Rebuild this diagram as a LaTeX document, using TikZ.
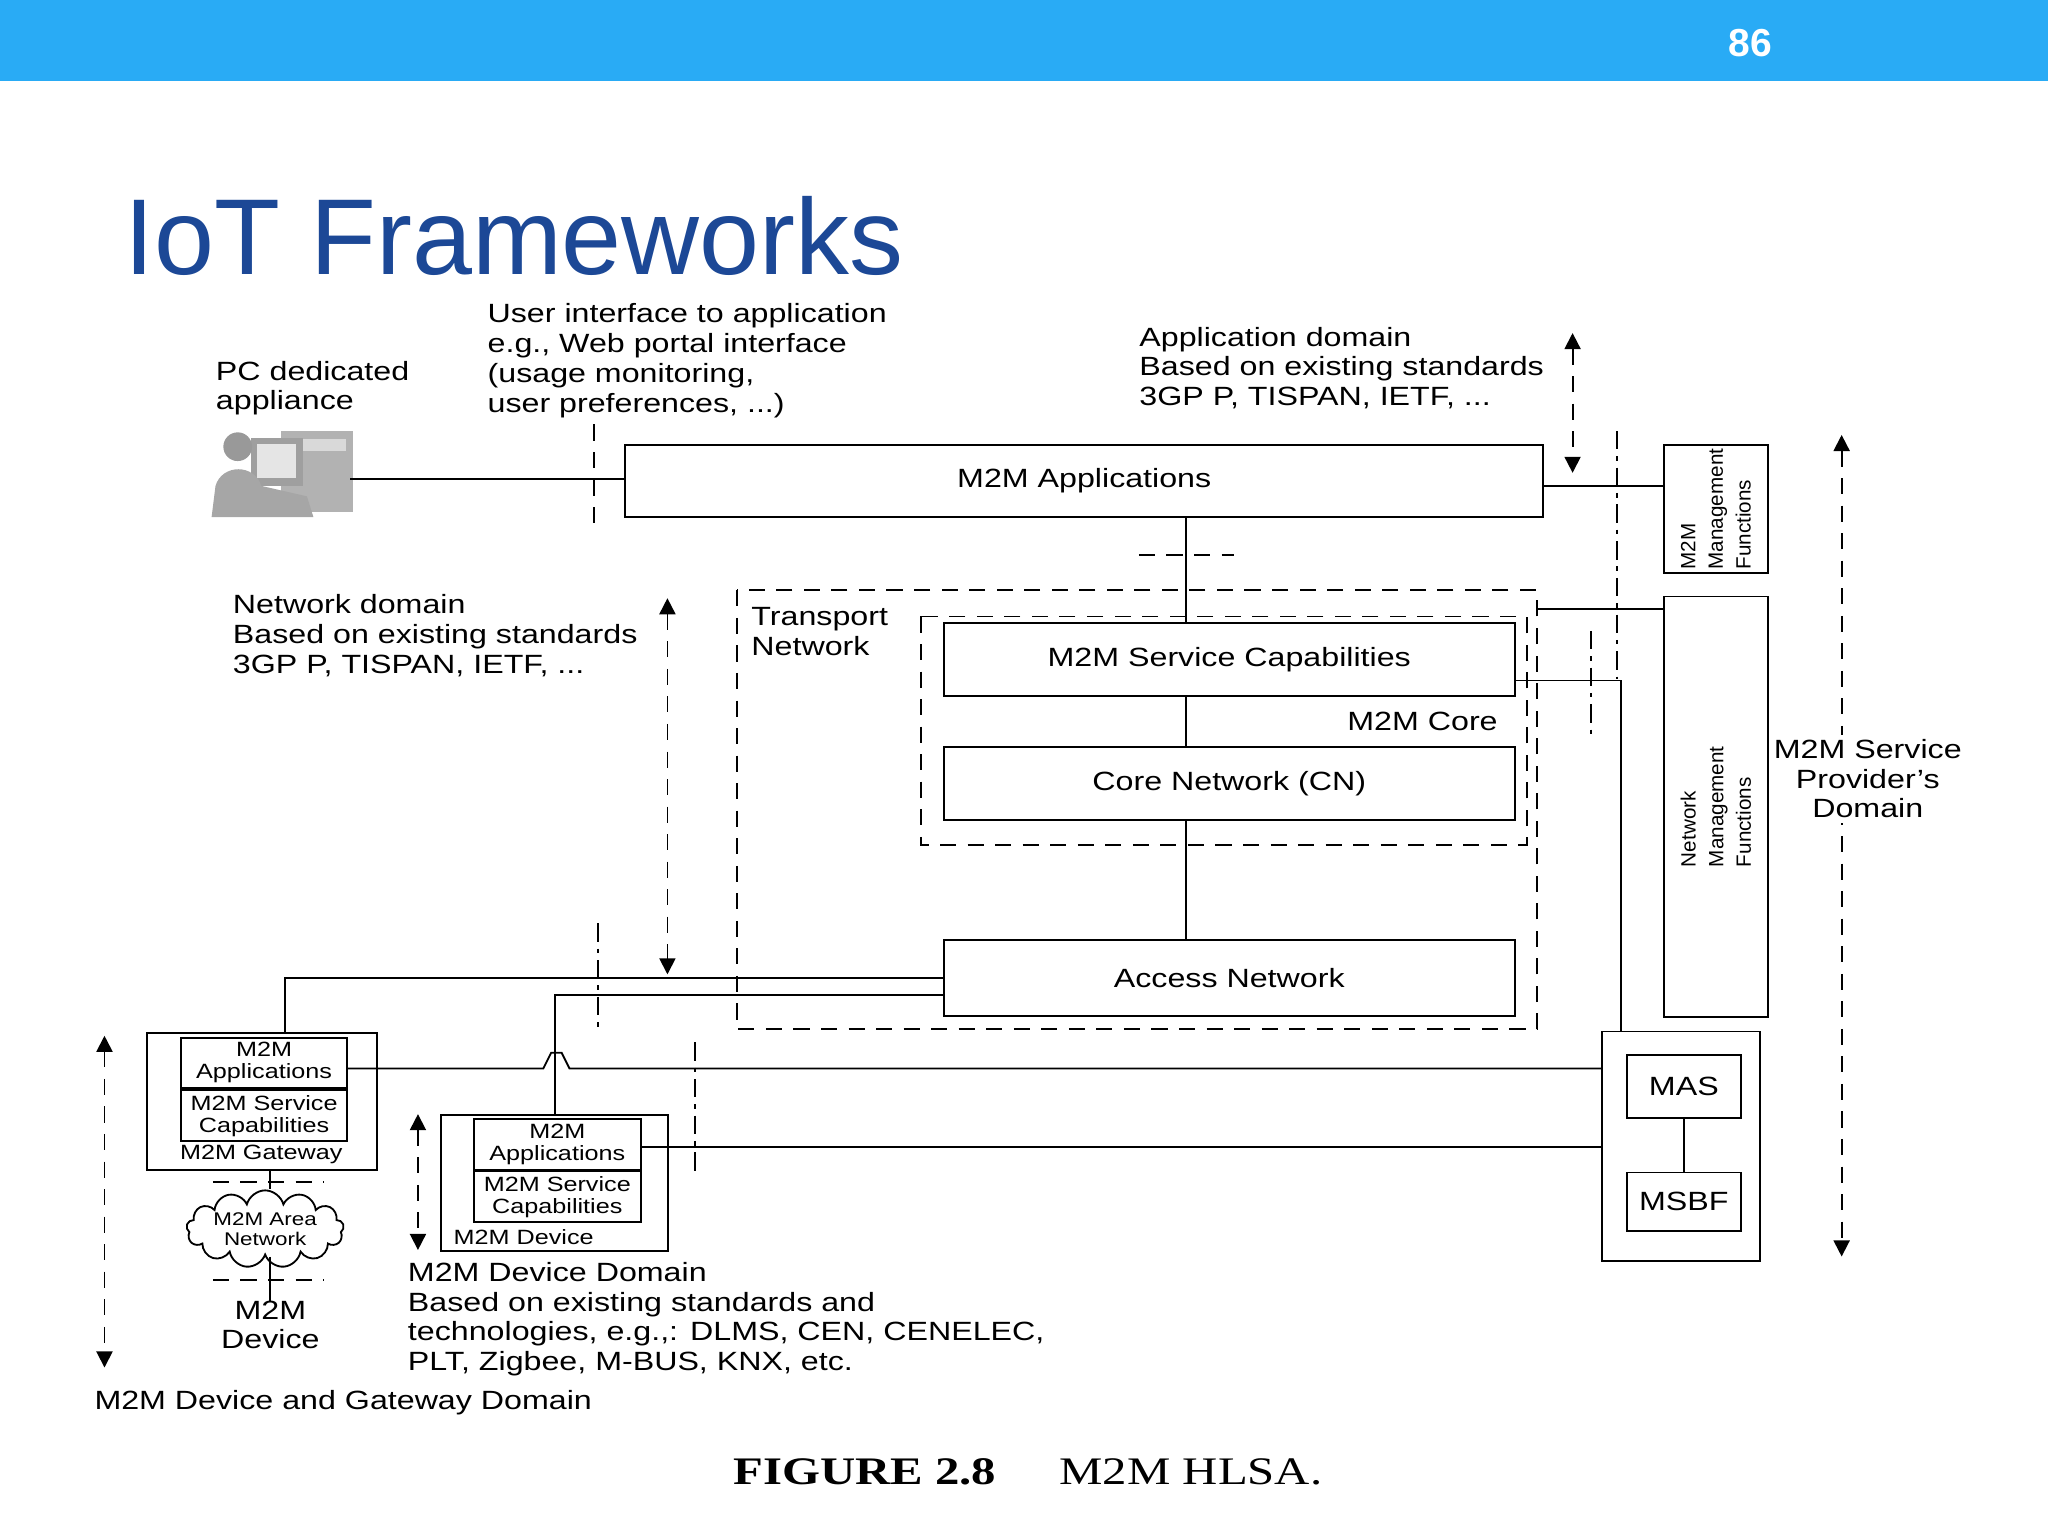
\documentclass[tikz,border=0pt]{standalone}
\usepackage{fontspec}
\setmainfont{Liberation Sans}[FakeStretch=1.22]
\newfontfamily\titlefont{Liberation Sans}
\newfontfamily\capfont{Liberation Serif}[FakeStretch=1.25]
\usetikzlibrary{shapes.symbols,arrows.meta}
\definecolor{barblue}{RGB}{41,171,245}
\definecolor{titleblue}{RGB}{28,72,150}
\begin{document}
\begin{tikzpicture}[x=0.02cm,y=-0.02cm,
  box/.style={draw,thick,inner sep=0pt,font=\fontsize{11.5}{13}\selectfont},
  sbox/.style={draw,thick,inner sep=0pt,font=\fontsize{9}{9.6}\selectfont,align=center},
  txt/.style={font=\fontsize{11.5}{13}\selectfont,align=left,inner sep=0pt},
  rot/.style={rotate=90,font=\titlefont\fontsize{9}{12}\selectfont,align=left,inner sep=0pt},
  dsh/.style={thick,dash pattern=on 7pt off 5pt},
  dd/.style={thick,dash pattern=on 8pt off 3pt on 2pt off 3pt},
  dar/.style={dsh,{Triangle[length=7pt,width=7pt]}-{Triangle[length=7pt,width=7pt]}},
  ln/.style={thick}]
\useasboundingbox (0,0) rectangle (1568,1176);
\fill[barblue] (0,0) rectangle (1568,62);
\node[text=white,font=\titlefont\bfseries\fontsize{17}{17}\selectfont] (pg) at (1340,33) {86};
\node[anchor=base west,inner sep=0pt,text=titleblue,font=\titlefont\fontsize{47}{47}\selectfont] (title) at (95,210) {IoT Frameworks};

% PC icon
\fill[gray!60] (215,330) rectangle (270,392);
\fill[gray!30] (220,336) rectangle (265,345);
\fill[gray!75] (192,335) rectangle (232,372);
\fill[gray!20] (197,340) rectangle (227,366);
\fill[gray!80] (182,342) circle (11);
\fill[gray!70] (162,396) -- (165,372) .. controls (170,355) and (195,355) .. (200,372) -- (235,380) -- (240,396) -- cycle;
\node[txt,anchor=north west] (pc) at (165,276) {PC dedicated\\appliance};
\coordinate (pcr) at (268,367);

\node[txt,anchor=north west] (ui) at (373,232) {User interface to application\\e.g., Web portal interface\\(usage monitoring,\\user preferences, ...)};
\node[txt,anchor=north west] (ad) at (872,250) {Application domain\\Based on existing standards\\3GP P, TISPAN, IETF, ...};
\node[txt,anchor=north west] (nd) at (178,455) {Network domain\\Based on existing standards\\3GP P, TISPAN, IETF, ...};

% main boxes
\node[box,anchor=north west,minimum width=14.06cm,minimum height=1.1cm] (app) at (478,340) {M2M Applications};
\node[box,anchor=north west,minimum width=8.74cm,minimum height=1.12cm] (sc) at (722,476) {M2M Service Capabilities};
\node[box,anchor=north west,minimum width=8.74cm,minimum height=1.12cm] (cn) at (722,571) {Core Network (CN)};
\node[box,anchor=north west,minimum width=8.74cm,minimum height=1.16cm] (an) at (722,719) {Access Network};
\draw[dsh] (564,452) rectangle (1177,788);
\node[txt,anchor=north west] (tn) at (575,465) {Transport\\Network};
\draw[dsh] (705,472) rectangle (1169,647);
\node[txt,anchor=south east] (core) at (1147,560) {M2M Core};

% management
\node[box,anchor=north west,minimum width=1.6cm,minimum height=1.96cm] (mmf) at (1273,340) {};
\node[rot] at (mmf.center) {M2M\\Management\\Functions};
\node[box,anchor=north west,minimum width=1.6cm,minimum height=6.44cm] (nmf) at (1273,456) {};
\node[rot] at (nmf.center) {Network\\Management\\Functions};
\node[draw,thick,anchor=north west,minimum width=2.42cm,minimum height=3.52cm] (srv) at (1226,789) {};
\node[box,anchor=north west,minimum width=1.74cm,minimum height=0.96cm] (mas) at (1245,807) {MAS};
\node[box,anchor=north west,minimum width=1.74cm,minimum height=0.9cm] (msbf) at (1245,897) {MSBF};

% gateway
\node[draw,thick,anchor=north west,minimum width=3.52cm,minimum height=2.1cm] (gw) at (112,790) {};
\node[sbox,anchor=north west,minimum width=2.54cm,minimum height=0.76cm] (gapp) at (138,794) {M2M\\Applications};
\node[sbox,anchor=north west,minimum width=2.54cm,minimum height=0.78cm] (gsc) at (138,834) {M2M Service\\Capabilities};
\node[font=\fontsize{9}{9}\selectfont,inner sep=0pt] (gwl) at (200,884) {M2M Gateway};
\node[cloud,draw,thick,cloud puffs=13,aspect=3,inner xsep=1pt,inner ysep=-1pt,font=\fontsize{8}{9}\selectfont,align=center] (cl) at (203,941) {M2M Area\\Network};
\node[txt,align=center,anchor=north,font=\fontsize{11.5}{12.5}\selectfont] (dev) at (207,996) {M2M\\Device};
\node[txt,anchor=north west] (dgd) at (72,1064) {M2M Device and Gateway Domain};

% device
\node[draw,thick,anchor=north west,minimum width=3.48cm,minimum height=2.08cm] (dv) at (337,853) {};
\node[sbox,anchor=north west,minimum width=2.56cm,minimum height=0.78cm] (dapp) at (362,856) {M2M\\Applications};
\node[sbox,anchor=north west,minimum width=2.56cm,minimum height=0.78cm] (dsc) at (362,896) {M2M Service\\Capabilities};
\node[font=\fontsize{9}{9}\selectfont,inner sep=0pt,anchor=west] (dvl) at (347,947) {M2M Device};
\node[txt,anchor=north west] (ddd) at (312,966) {M2M Device Domain\\Based on existing standards and\\technologies, e.g.,: DLMS, CEN, CENELEC,\\PLT, Zigbee, M-BUS, KNX, etc.};

\node[font=\capfont\bfseries\fontsize{17}{17}\selectfont,inner sep=0pt] (cap) at (787,1127) {FIGURE 2.8\quad\ \ \mdseries M2M HLSA.};

% connectors
\draw[ln] (pcr) -- (app.west |- pcr);
\draw[ln] (app.south -| 908,0) -- (sc.north -| 908,0);
\draw[ln] (sc.south -| 908,0) -- (cn.north -| 908,0);
\draw[ln] (cn.south -| 908,0) -- (an.north -| 908,0);
\draw[ln] (app.east |- 0,372) -- (mmf.west |- 0,372);
\draw[ln] (1177,466) -- (nmf.west |- 0,466);
\draw[ln] (sc.east |- 0,521) -- (1241,521) -- (srv.north -| 1241,0);
\draw[ln] (mas) -- (msbf);
\draw[ln] (an.west |- 0,749) -- (218,749) -- (gw.north -| 218,0);
\draw[ln] (an.west |- 0,762) -- (425,762) -- (dv.north -| 425,0);
\draw[ln] (gapp.east |- 0,818) -- (416,818) -- (422,806) -- (430,806) -- (436,818) -- (srv.west |- 0,818);
\draw[ln] (dapp.east |- 0,878) -- (srv.west |- 0,878);
\draw[ln] (gw.south -| 207,0) -- (cl.north -| 207,0);
\draw[ln] (cl.south -| 207,0) -- (dev.north -| 207,0);

% domain boundaries
\draw[dsh] (455,325) -- (455,405);
\draw[dsh] (872,425) -- (945,425);
\draw[dsh] (163,905) -- (248,905);
\draw[dsh] (163,980) -- (248,980);
\draw[dd] (1238,330) -- (1238,520);
\draw[dd] (1218,483) -- (1218,562);
\draw[dd] (458,707) -- (458,790);
\draw[dd] (532,798) -- (532,900);
\coordinate (a1) at (1204,255); \coordinate (a2) at (1204,362);
\draw[dar] (a1) -- (a2);
\coordinate (b1) at (511,458); \coordinate (b2) at (511,746);
\draw[dar] (b1) -- (b2);
\coordinate (c1) at (1410,333); \coordinate (c2) at (1410,962);
\draw[dar] (c1) -- (c2);
\coordinate (d1) at (80,793); \coordinate (d2) at (80,1047);
\draw[dar] (d1) -- (d2);
\coordinate (e1) at (320,853); \coordinate (e2) at (320,957);
\draw[dar] (e1) -- (e2);
\node[txt,align=center,anchor=north,fill=white,inner sep=2pt] (spd) at (1430,562) {M2M Service\\Provider's\\Domain};
\end{tikzpicture}
\end{document}
